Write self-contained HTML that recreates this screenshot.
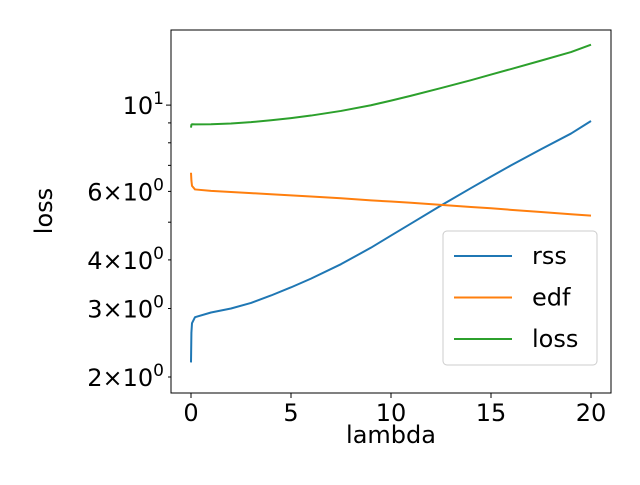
<!DOCTYPE html>
<html><head><meta charset="utf-8"><style>body{margin:0;background:#fff}svg{font-family:"DejaVu Sans","Liberation Sans",sans-serif}</style></head>
<body>
<svg id="c" width="640" height="480"></svg>
<script>
const xs = [0, 0.02, 0.05, 0.2, 1, 2, 3, 4, 5, 6, 7.5, 9, 10, 11, 12.5, 14, 15, 16, 17.5, 19, 20];
const rss = [2.18, 2.6, 2.75, 2.85, 2.93, 3.0, 3.1, 3.24, 3.4, 3.58, 3.9, 4.3, 4.62, 4.96, 5.52, 6.12, 6.55, 7.0, 7.7, 8.45, 9.1];
const edf = [6.7, 6.4, 6.2, 6.07, 6.02, 5.98, 5.94, 5.9, 5.86, 5.82, 5.76, 5.69, 5.65, 5.61, 5.54, 5.47, 5.43, 5.38, 5.31, 5.24, 5.2];
const lossv = [8.75, 8.9, 8.93, 8.92, 8.93, 8.97, 9.04, 9.14, 9.26, 9.4, 9.66, 9.99, 10.27, 10.57, 11.06, 11.59, 11.98, 12.38, 13.01, 13.69, 14.3];
const xTicks = [0, 5, 10, 15, 20];
const yTicks = [2, 3, 4, 6, 10];
const yTickBase = ["2\u00d710", "3\u00d710", "4\u00d710", "6\u00d710", "10"];
const yTickExp = ["0", "0", "0", "0", "1"];
const yMinor = [5, 7, 8, 9];
const L=171,R=611,T=30,B=393;
const X=v=>191+v*20;
const Y=v=>377-(Math.log10(v)-Math.log10(2))*389;
const svg=document.getElementById('c');const NS='http://www.w3.org/2000/svg';
function mk(t,a,p){const e=document.createElementNS(NS,t);for(const k in a)e.setAttribute(k,a[k]);(p||svg).appendChild(e);return e;}
const series=[[rss,'#1f77b4','rss'],[edf,'#ff7f0e','edf'],[lossv,'#2ca02c','loss']];
series.forEach(s=>{
 const p=mk('polyline',{points:xs.map((x,i)=>X(x)+','+Y(s[0][i])).join(' '),fill:'none',stroke:s[1],'stroke-width':2,'stroke-linejoin':'round'});
 
 
});
const fr=mk('rect',{x:L,y:T,width:R-L,height:B-T,fill:'none',stroke:'#000','stroke-width':1});


xTicks.forEach(v=>{
 mk('line',{x1:X(v),x2:X(v),y1:B,y2:B+5,stroke:'#000'});
 const t=mk('text',{x:X(v),y:B+28,'text-anchor':'middle','font-size':24});t.textContent=v;
 
 
});
yTicks.forEach((v,i)=>{
 mk('line',{x1:L,x2:L-(v==10?5:3),y1:Y(v),y2:Y(v),stroke:'#000'});
 const t=mk('text',{x:L-7,y:Y(v)+9,'text-anchor':'end','font-size':24});
 const a=mk('tspan',{},t);a.textContent=yTickBase[i];
 const b=mk('tspan',{'font-size':17,dy:-10},t);b.textContent=yTickExp[i];
 
 
});
yMinor.forEach(v=>mk('line',{x1:L,x2:L-3,y1:Y(v),y2:Y(v),stroke:'#000'}));
let t=mk('text',{x:391,y:443,'text-anchor':'middle','font-size':24});t.textContent='lambda';


t=mk('text',{x:52,y:211,'text-anchor':'middle','font-size':24,transform:'rotate(-90 52 211)'});t.textContent='loss';


const lg=mk('g',{});


mk('rect',{x:443,y:231,width:154,height:134,rx:4,fill:'#fff','fill-opacity':0.8,stroke:'#ccc'},lg);
series.forEach((s,i)=>{
 const y=256+i*41.5;
 mk('line',{x1:454,x2:512,y1:y,y2:y,stroke:s[1],'stroke-width':2},lg);
 const tt=mk('text',{x:532,y:y+8,'font-size':24},lg);tt.textContent=s[2];
 
 
});
</script>
</body></html>
